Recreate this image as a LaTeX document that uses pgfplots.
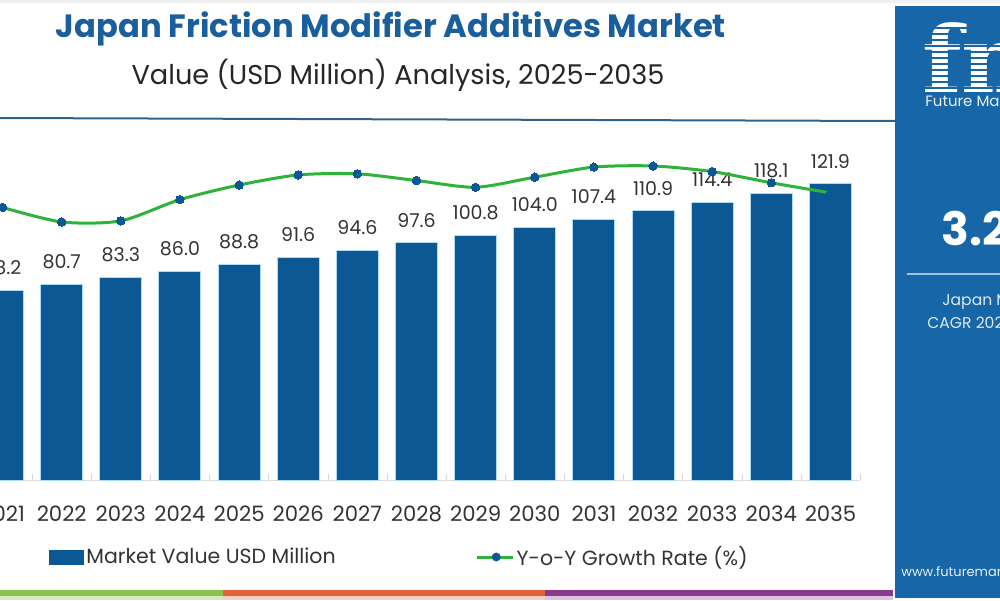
\documentclass[border=0pt]{standalone}
\usepackage{pgfplots}
\pgfplotsset{compat=1.18}
\usepackage{fontspec}
\setmainfont{Poppins}
\newfontfamily\logofont{DejaVu Serif}

\definecolor{barblue}{HTML}{0C5894}
\definecolor{titleblue}{HTML}{1A5E9C}
\definecolor{panelblue}{HTML}{1766A8}
\definecolor{linegreen}{HTML}{2DB33A}
\definecolor{txt}{HTML}{333333}
\definecolor{rulecol}{HTML}{2F6090}
\definecolor{stripgreen}{HTML}{8CC152}
\definecolor{stripred}{HTML}{E2633A}
\definecolor{strippurple}{HTML}{8A3A8C}

\begin{document}
\begin{tikzpicture}
% market value bars
\begin{axis}[
    at={(-13.5pt,-240pt)}, anchor=south west,
    scale only axis, width=443.5pt, height=170pt,
    xmin=-0.5, xmax=14.5, ymin=0, ymax=140,
    axis y line=none, axis x line*=bottom,
    x axis line style={draw=gray!25, -},
    xtick={0,...,14},
    xticklabels={2021,2022,2023,2024,2025,2026,2027,2028,2029,2030,2031,2032,2033,2034,2035},
    major tick length=0pt,
    extra x ticks={-0.5,0.5,...,14.5}, extra x tick labels={},
    extra x tick style={major tick length=3pt, tick style={draw=gray!30}},
    ticklabel style={font=\fontsize{10.6}{12}\selectfont, text=txt},
    xticklabel style={yshift=-9.5pt},
    ymajorgrids, ytick={0,20,...,140}, grid style={draw=gray!10},
    /pgf/number format/assume math mode=true,
    legend columns=2,
    legend style={draw=none, fill=none, at={(0.0857,-0.2265)}, anchor=west,
        inner sep=0pt, font=\fontsize{10.25}{12}\selectfont, text=txt,
        /tikz/every even column/.append style={column sep=69pt},
        nodes={inner sep=1pt}},
]
\addplot[ybar, bar width=21pt, fill=barblue, draw={rgb,255:red,170;green,220;blue,245}, line width=0.5pt,
    nodes near coords,
    nodes near coords style={font=\fontsize{9.5}{11}\selectfont, text=txt, inner sep=0pt, yshift=7.5pt,
        /pgf/number format/.cd, fixed, zerofill, precision=1},
    legend image code/.code={\fill[barblue] (0pt,-3.5pt) rectangle (17pt,3.5pt);}]
coordinates {(0,78.2) (1,80.7) (2,83.3) (3,86.0) (4,88.8) (5,91.6) (6,94.6) (7,97.6)
    (8,100.8) (9,104.0) (10,107.4) (11,110.9) (12,114.4) (13,118.1) (14,121.9)};
\addlegendentry{Market Value USD Million}
\addlegendimage{legend image code/.code={
    \draw[linegreen, line width=1.5pt] (0pt,0pt) -- (18pt,0pt);
    \fill[barblue] (9.5pt,0pt) circle (2pt);}}
\addlegendentry{Y-o-Y Growth Rate (\%)}
\end{axis}
% year-on-year growth line
\begin{axis}[
    at={(-13.5pt,-240pt)}, anchor=south west,
    scale only axis, width=443.5pt, height=170pt,
    xmin=-0.5, xmax=14.5, ymin=0.696, ymax=3.732,
    hide axis,
]
\addplot[linegreen, line width=1.5pt, smooth, tension=0.45,
    mark=*, mark size=2.1pt, mark options={fill=barblue, draw=barblue, line width=0pt}]
coordinates {(0,3.13) (1,3.00) (2,3.01) (3,3.20) (4,3.33) (5,3.42) (6,3.43) (7,3.37)
    (8,3.31) (9,3.40) (10,3.49) (11,3.50) (12,3.45) (13,3.35) (14,3.26)};
\end{axis}
% frame, titles and side panel (pixel units)
\begin{scope}[x=0.5pt, y=-0.5pt]
\fill[gray!12] (0,0) rectangle (1000,3);
\node[font=\bfseries\fontsize{16.1}{18}\selectfont, text=titleblue] at (391,29) {Japan Friction Modifier Additives Market};
\node[font=\fontsize{13.6}{15}\selectfont, text=black!85] at (398,75) {Value (USD Million) Analysis, 2025-2035};
\draw[rulecol, line width=1pt] (0,118) -- (896,121);
\fill[panelblue] (895,6) rectangle (1010,598);
\node[anchor=south west, inner sep=0pt, text=white, font=\logofont\bfseries\fontsize{46}{46}\selectfont] at (922,93) {fmi};
\foreach \yy in {28,34,...,90} \draw[panelblue, line width=0.8pt] (915,\yy) -- (1000,\yy);
\node[anchor=west, inner sep=0pt, text=white!90!panelblue, font=\fontsize{7.5}{9}\selectfont] at (925,103) {Future Market Insights};
\node[anchor=west, inner sep=0pt, text=white, font=\bfseries\fontsize{23}{26}\selectfont] at (941,229) {3.2\%};
\draw[white!60!panelblue, line width=1pt] (907,274) -- (1010,274);
\node[anchor=west, inner sep=0pt, text=white!85!panelblue, font=\fontsize{7.8}{9}\selectfont] at (942,302) {Japan Market};
\node[anchor=west, inner sep=0pt, text=white!85!panelblue, font=\fontsize{7.8}{9}\selectfont] at (927,323) {CAGR 2025-2035};
\node[anchor=west, inner sep=0pt, text=white!90!panelblue, font=\fontsize{6.5}{8}\selectfont] at (901,573) {www.futuremarketinsights.com};
\fill[stripgreen] (0,590) rectangle (223,596);
\fill[stripred] (223,590) rectangle (545,596);
\fill[strippurple] (545,590) rectangle (893,596);
\fill[stripgreen!35] (0,596) rectangle (223,600);
\fill[stripred!30] (223,596) rectangle (545,600);
\fill[strippurple!30] (545,596) rectangle (893,600);
\pgfresetboundingbox
\path[use as bounding box] (0,0) rectangle (1000,600);
\end{scope}
\end{tikzpicture}
\end{document}
